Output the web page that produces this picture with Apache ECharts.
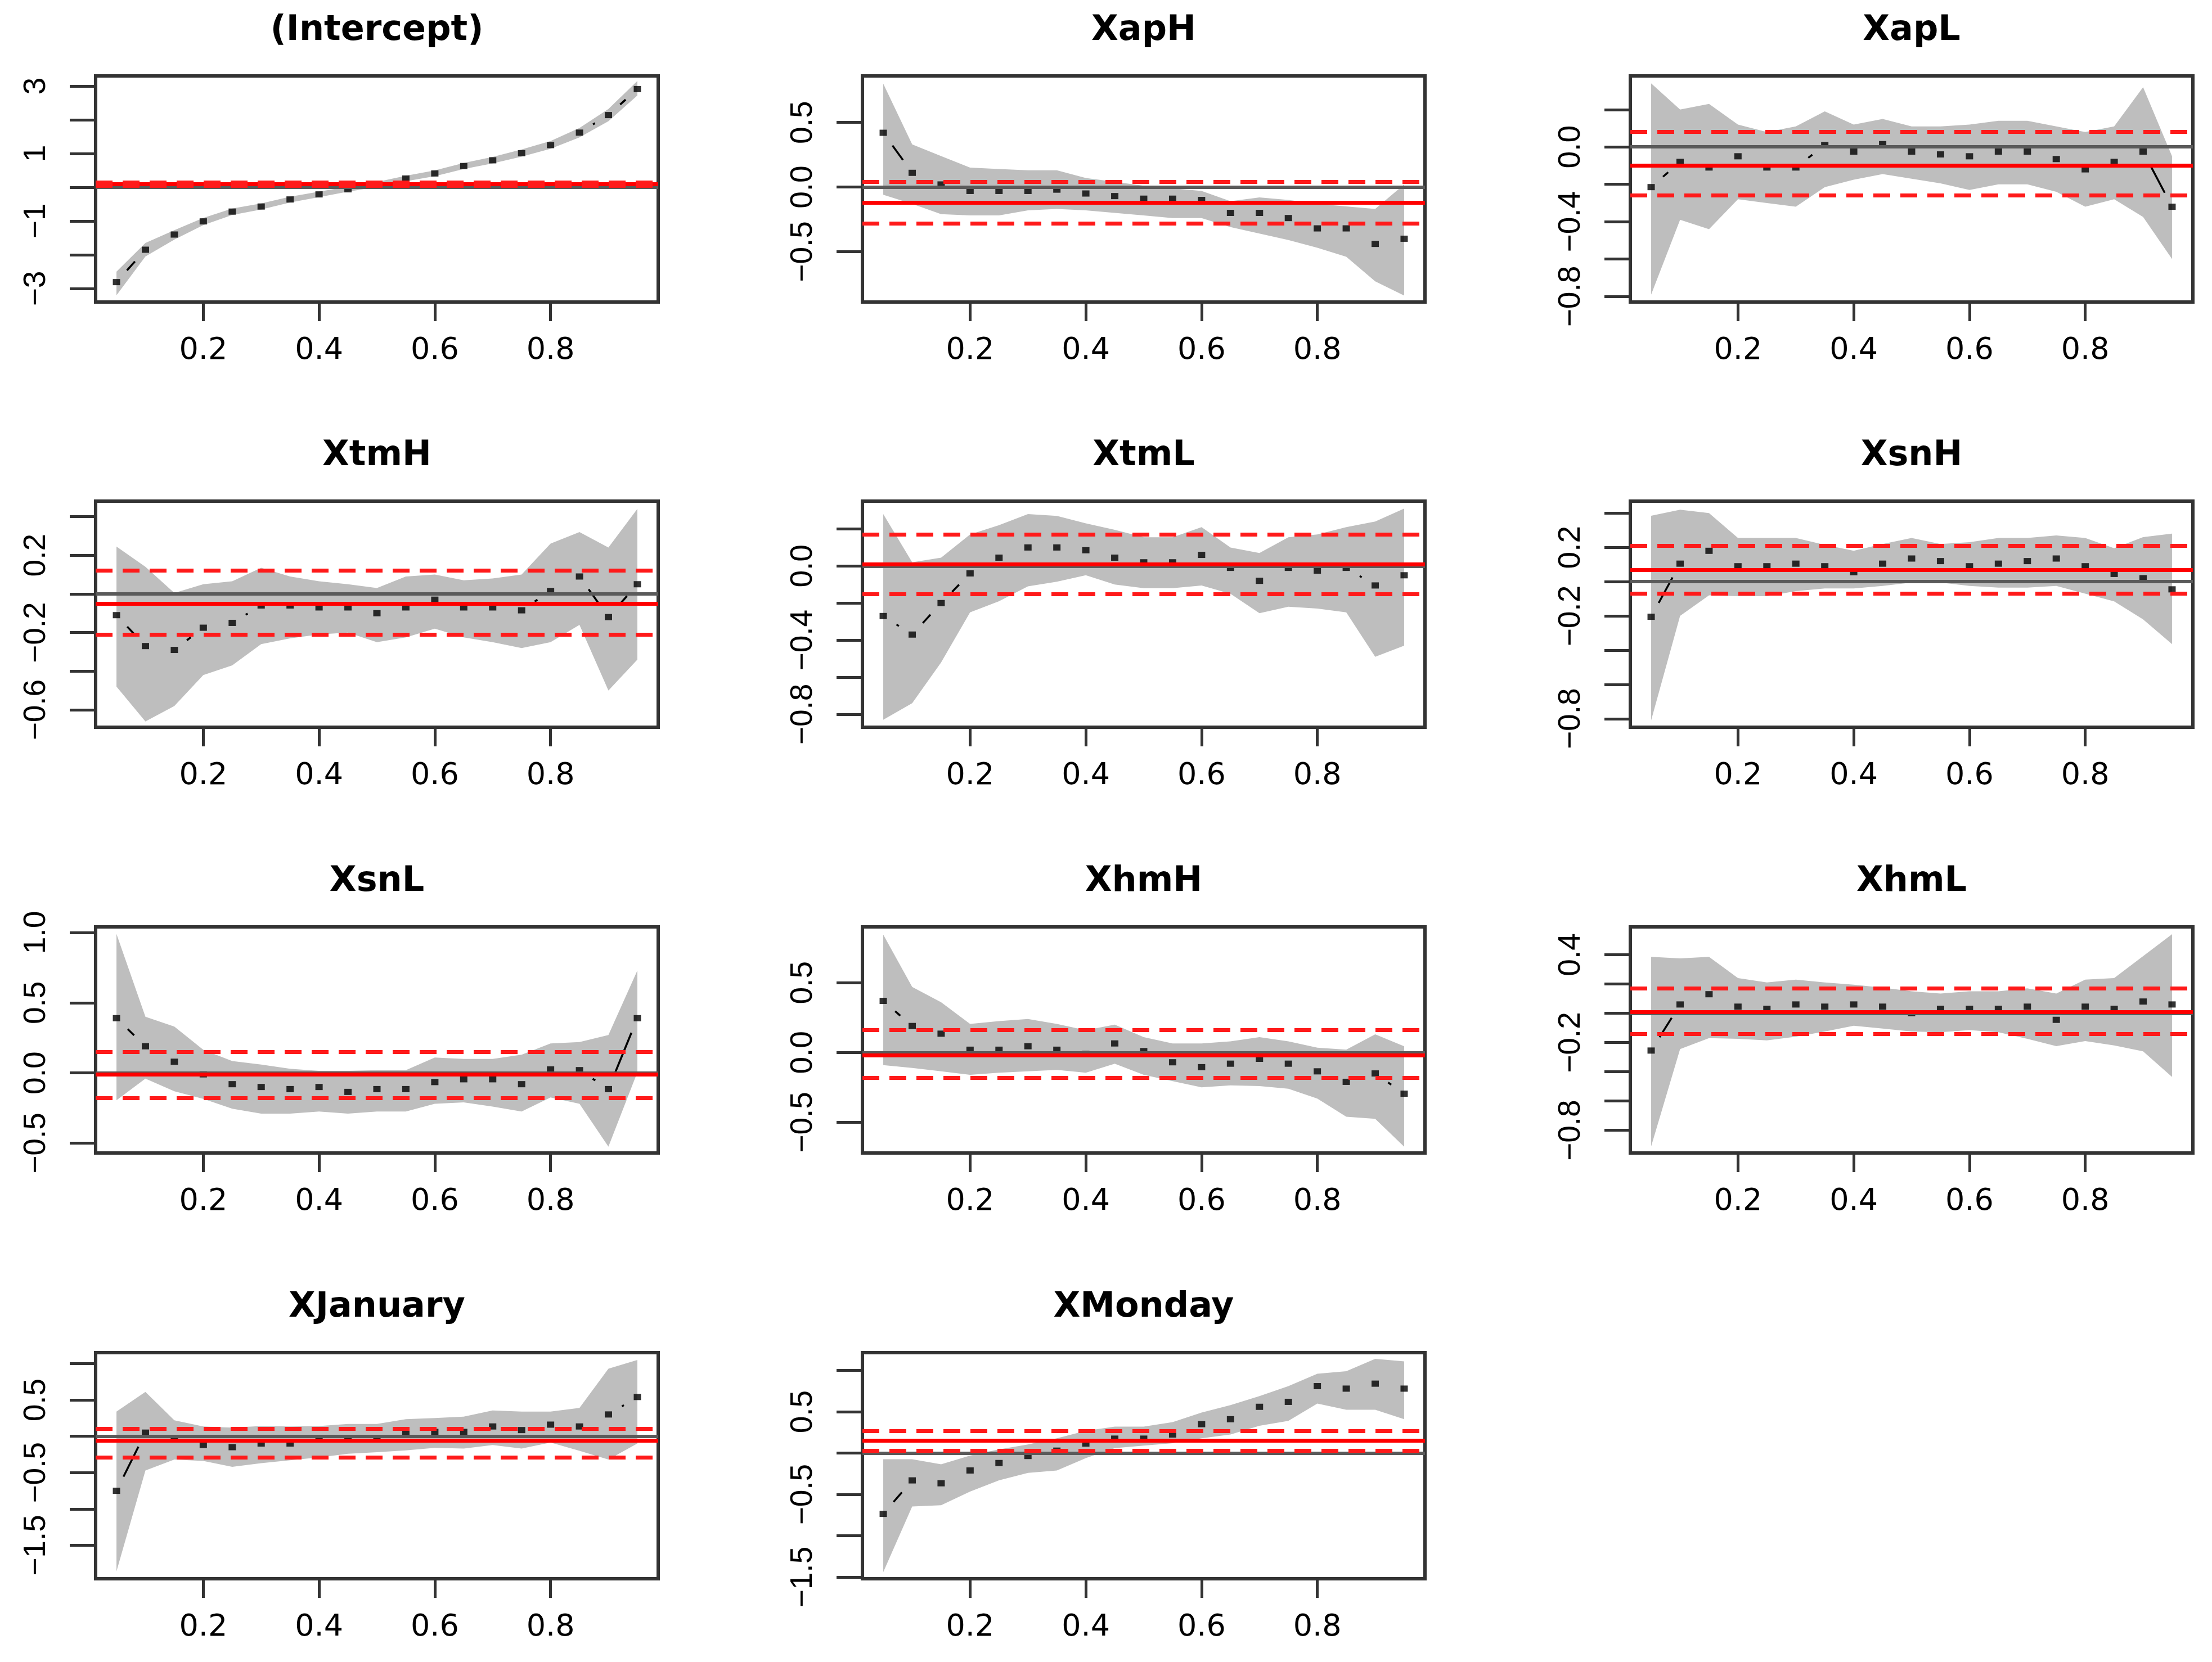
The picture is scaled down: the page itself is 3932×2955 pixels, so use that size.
<!DOCTYPE html>
<html><head><meta charset="utf-8">
<script src="https://cdn.jsdelivr.net/npm/echarts@6/dist/echarts.min.js"></script>
<style>html,body{margin:0;padding:0;background:#fff}#c{width:3932px;height:2955px}</style>
</head><body><div id="c"></div>
<script>
const taus = [0.05,0.10,0.15,0.20,0.25,0.30,0.35,0.40,0.45,0.50,0.55,0.60,0.65,0.70,0.75,0.80,0.85,0.90,0.95];
const panelNames = ['(Intercept)','XapH','XapL','XtmH','XtmL','XsnH','XsnL','XhmH','XhmL','XJanuary','XMonday'];
const xTickValues = [0.2,0.4,0.6,0.8];

const interceptEst = [-2.81,-1.85,-1.40,-1.01,-0.72,-0.57,-0.36,-0.21,-0.06,0.08,0.26,0.41,0.63,0.80,1.01,1.25,1.62,2.14,2.91];
const interceptLo  = [-3.20,-2.05,-1.55,-1.12,-0.82,-0.66,-0.45,-0.29,-0.13,0.01,0.18,0.33,0.54,0.71,0.91,1.14,1.48,1.96,2.72];
const interceptHi  = [-2.50,-1.65,-1.27,-0.91,-0.63,-0.48,-0.28,-0.13,0.02,0.16,0.34,0.50,0.72,0.90,1.12,1.37,1.76,2.32,3.15];
const interceptOls = [0.10,0.05,0.15];

const xapHEst = [0.42,0.11,0.02,-0.03,-0.03,-0.03,-0.02,-0.05,-0.07,-0.09,-0.09,-0.10,-0.20,-0.20,-0.24,-0.32,-0.32,-0.44,-0.40];
const xapHLo  = [-0.06,-0.13,-0.21,-0.22,-0.22,-0.18,-0.17,-0.18,-0.20,-0.22,-0.24,-0.24,-0.31,-0.36,-0.41,-0.47,-0.54,-0.73,-0.84];
const xapHHi  = [0.80,0.33,0.24,0.15,0.14,0.13,0.13,0.07,0.04,0.01,-0.01,-0.03,-0.11,-0.08,-0.10,-0.13,-0.15,-0.17,0.02];
const xapHOls = [-0.12,-0.28,0.04];

const xapLEst = [-0.215,-0.08,-0.11,-0.05,-0.11,-0.11,0.01,-0.025,0.015,-0.025,-0.04,-0.05,-0.025,-0.025,-0.065,-0.12,-0.08,-0.025,-0.32];
const xapLLo  = [-0.79,-0.39,-0.44,-0.28,-0.30,-0.32,-0.215,-0.175,-0.145,-0.17,-0.195,-0.23,-0.20,-0.20,-0.24,-0.32,-0.28,-0.375,-0.60];
const xapLHi  = [0.34,0.20,0.23,0.12,0.08,0.11,0.19,0.12,0.15,0.11,0.11,0.12,0.14,0.14,0.11,0.08,0.11,0.32,-0.05];
const xapLOls = [-0.10,-0.26,0.08];

const xtmHEst = [-0.11,-0.27,-0.29,-0.175,-0.15,-0.06,-0.06,-0.07,-0.07,-0.10,-0.07,-0.03,-0.07,-0.07,-0.085,0.015,0.09,-0.12,0.05];
const xtmHLo  = [-0.48,-0.66,-0.58,-0.42,-0.37,-0.26,-0.23,-0.21,-0.20,-0.25,-0.225,-0.18,-0.225,-0.25,-0.28,-0.25,-0.16,-0.50,-0.34];
const xtmHHi  = [0.245,0.14,0.005,0.05,0.065,0.135,0.09,0.065,0.05,0.03,0.09,0.10,0.07,0.08,0.10,0.26,0.32,0.24,0.44];
const xtmHOls = [-0.05,-0.21,0.12];

const xtmLEst = [-0.27,-0.37,-0.20,-0.04,0.045,0.10,0.10,0.085,0.045,0.02,0.02,0.06,-0.01,-0.08,-0.01,-0.025,-0.01,-0.105,-0.05];
const xtmLLo  = [-0.83,-0.74,-0.52,-0.25,-0.19,-0.11,-0.085,-0.05,-0.10,-0.12,-0.12,-0.105,-0.15,-0.255,-0.22,-0.23,-0.25,-0.49,-0.43];
const xtmLHi  = [0.28,0.02,0.045,0.17,0.22,0.28,0.27,0.23,0.195,0.155,0.155,0.21,0.10,0.07,0.155,0.17,0.21,0.24,0.31];
const xtmLOls = [0.01,-0.15,0.175];

const xsnHEst = [-0.205,0.105,0.18,0.09,0.09,0.105,0.09,0.055,0.105,0.135,0.12,0.09,0.105,0.12,0.135,0.09,0.045,0.02,-0.045];
const xsnHLo  = [-0.81,-0.20,-0.08,-0.085,-0.085,-0.055,-0.04,-0.04,-0.025,-0.005,-0.005,-0.025,-0.035,-0.035,-0.025,-0.07,-0.115,-0.22,-0.365];
const xsnHHi  = [0.385,0.42,0.40,0.255,0.255,0.255,0.215,0.18,0.22,0.255,0.22,0.23,0.255,0.255,0.27,0.255,0.195,0.26,0.28];
const xsnHOls = [0.065,-0.065,0.215];

const xsnLEst = [0.39,0.19,0.08,-0.01,-0.08,-0.10,-0.115,-0.10,-0.135,-0.115,-0.115,-0.065,-0.045,-0.045,-0.08,0.025,0.02,-0.115,0.39];
const xsnLLo  = [-0.195,-0.04,-0.13,-0.185,-0.255,-0.29,-0.29,-0.275,-0.29,-0.275,-0.275,-0.22,-0.21,-0.24,-0.275,-0.175,-0.22,-0.525,0.005];
const xsnLHi  = [0.99,0.40,0.33,0.165,0.085,0.06,0.03,0.015,0.015,0.02,0.02,0.11,0.10,0.10,0.13,0.21,0.22,0.27,0.73];
const xsnLOls = [-0.01,-0.18,0.15];

const xhmHEst = [0.37,0.19,0.135,0.02,0.02,0.045,0.02,-0.01,0.065,0.01,-0.07,-0.105,-0.08,-0.045,-0.08,-0.135,-0.21,-0.15,-0.295];
const xhmHLo  = [-0.09,-0.11,-0.135,-0.16,-0.145,-0.135,-0.125,-0.145,-0.08,-0.16,-0.205,-0.25,-0.235,-0.24,-0.26,-0.33,-0.46,-0.475,-0.675];
const xhmHHi  = [0.845,0.47,0.36,0.205,0.225,0.24,0.205,0.16,0.20,0.11,0.065,0.065,0.08,0.11,0.08,0.035,0.02,0.13,0.045];
const xhmHOls = [-0.02,-0.185,0.16];

const xhmLEst = [-0.255,0.06,0.13,0.045,0.03,0.06,0.045,0.06,0.045,0.0,0.03,0.03,0.03,0.045,-0.045,0.045,0.03,0.08,0.06];
const xhmLLo  = [-0.91,-0.245,-0.17,-0.175,-0.185,-0.16,-0.125,-0.085,-0.105,-0.125,-0.13,-0.115,-0.13,-0.175,-0.225,-0.19,-0.22,-0.26,-0.435];
const xhmLHi  = [0.385,0.375,0.385,0.24,0.21,0.23,0.21,0.195,0.175,0.15,0.135,0.15,0.15,0.17,0.135,0.23,0.24,0.39,0.54];
const xhmLOls = [0.015,-0.14,0.17];

const januaryEst = [-0.75,0.05,-0.035,-0.12,-0.15,-0.10,-0.10,-0.035,-0.035,-0.035,0.035,0.06,0.06,0.135,0.085,0.16,0.135,0.30,0.54];
const januaryLo  = [-1.86,-0.47,-0.32,-0.34,-0.42,-0.37,-0.33,-0.29,-0.24,-0.22,-0.195,-0.16,-0.17,-0.12,-0.17,-0.085,-0.20,-0.32,-0.10];
const januaryHi  = [0.34,0.61,0.22,0.135,0.12,0.14,0.135,0.14,0.17,0.17,0.235,0.25,0.27,0.355,0.34,0.34,0.39,0.93,1.05];
const januaryOls = [-0.06,-0.29,0.10];

const mondayEst = [-0.735,-0.33,-0.365,-0.21,-0.12,-0.035,0.03,0.115,0.175,0.175,0.225,0.35,0.41,0.56,0.62,0.81,0.78,0.84,0.78];
const mondayLo  = [-1.44,-0.645,-0.63,-0.465,-0.33,-0.24,-0.21,-0.06,0.06,0.09,0.12,0.18,0.225,0.33,0.39,0.60,0.525,0.525,0.41];
const mondayHi  = [-0.075,-0.075,-0.135,-0.03,0.045,0.105,0.18,0.27,0.32,0.32,0.375,0.49,0.58,0.69,0.81,0.96,0.99,1.14,1.11];
const mondayOls = [0.155,0.025,0.27];

const yLimits = [[-3.40,3.30],[-0.89,0.86],[-0.83,0.38],[-0.69,0.48],[-0.87,0.35],[-0.85,0.47],[-0.57,1.04],[-0.72,0.90],[-0.955,0.59],[-1.96,1.15],[-1.52,1.215]];
const yTicks = [
  [-3,-2,-1,0,1,2,3],
  [-0.5,0,0.5],
  [-0.8,-0.6,-0.4,-0.2,0,0.2],
  [-0.6,-0.4,-0.2,0,0.2,0.4],
  [-0.8,-0.6,-0.4,-0.2,0,0.2],
  [-0.8,-0.6,-0.4,-0.2,0,0.2,0.4],
  [-0.5,0,0.5,1],
  [-0.5,0,0.5],
  [-0.8,-0.6,-0.4,-0.2,0,0.2,0.4],
  [-1.5,-1,-0.5,0,0.5,1],
  [-1.5,-1,-0.5,0,0.5,1]
];
const yLabels = [
  [-3,-1,1,3],
  [-0.5,0,0.5],
  [-0.8,-0.4,0],
  [-0.6,-0.2,0.2],
  [-0.8,-0.4,0],
  [-0.8,-0.2,0.2],
  [-0.5,0,0.5,1],
  [-0.5,0,0.5],
  [-0.8,-0.2,0.4],
  [-1.5,-0.5,0.5],
  [-1.5,-0.5,0.5]
];
const yDecimals = [0,1,1,1,1,1,1,1,1,1,1];

const estimates = [interceptEst,xapHEst,xapLEst,xtmHEst,xtmLEst,xsnHEst,xsnLEst,xhmHEst,xhmLEst,januaryEst,mondayEst];
const lowers = [interceptLo,xapHLo,xapLLo,xtmHLo,xtmLLo,xsnHLo,xsnLLo,xhmHLo,xhmLLo,januaryLo,mondayLo];
const uppers = [interceptHi,xapHHi,xapLHi,xtmHHi,xtmLHi,xsnHHi,xsnLHi,xhmHHi,xhmLHi,januaryHi,mondayHi];
const olsLines = [interceptOls,xapHOls,xapLOls,xtmHOls,xtmLOls,xsnHOls,xsnLOls,xhmHOls,xhmLOls,januaryOls,mondayOls];

// layout
const colLeft = [170,1533,2898];
const rowTop = [135,891,1648,2405];
const W = 1000, H = 402;
const FONT = '"DejaVu Sans", sans-serif';
const YFONT = '"Liberation Sans", Arial, sans-serif';

function fmt(v, d) {
  let s = d === 0 ? String(Math.round(v)) : Number(v).toFixed(d);
  if (s.startsWith('-')) s = '\u2212' + s.slice(1);
  if (s === '\u22120.0') s = '0.0';
  return s;
}

const grids = [], xAxes = [], yAxes = [], series = [], graphics = [];
panelNames.forEach((name, i) => {
  const r = Math.floor(i / 3), c = i % 3;
  const est = estimates[i], lo = lowers[i], hi = uppers[i], ols = olsLines[i];
  grids.push({left: colLeft[c], top: rowTop[r], width: W, height: H, show: true,
    borderColor: '#333', borderWidth: 6, backgroundColor: 'rgba(0,0,0,0)', containLabel: false, outerBoundsMode: 'none'});
  xAxes.push({gridIndex: i, type: 'value', min: 0.014, max: 0.986, position: 'bottom',
    axisLine: {show: false, onZero: false}, splitLine: {show: false},
    axisTick: {show: true, length: 34, customValues: xTickValues, lineStyle: {color: '#333', width: 5}},
    axisLabel: {customValues: xTickValues, formatter: v => Number(v).toFixed(1), fontSize: 54, fontFamily: FONT, color: '#000', margin: 60}});
  const d = yDecimals[i];
  yAxes.push({gridIndex: i, type: 'value', min: yLimits[i][0], max: yLimits[i][1], position: 'left',
    axisLine: {show: false, onZero: false}, splitLine: {show: false},
    axisTick: {show: true, length: 46, customValues: yTicks[i], lineStyle: {color: '#333', width: 5}},
    axisLabel: {customValues: yLabels[i], rotate: 90, showMinLabel: true, showMaxLabel: true, hideOverlap: false,
      formatter: v => fmt(v, d), fontSize: 55, fontFamily: YFONT, color: '#000', margin: 78}});
  // confidence band
  series.push({type: 'custom', xAxisIndex: i, yAxisIndex: i, silent: true, z: 1, animation: false,
    data: taus.map((t, k) => [t, lo[k], hi[k]]),
    renderItem: (params, api) => {
      if (params.dataIndex !== 0) return null;
      const pts = [];
      for (let k = 0; k < taus.length; k++) pts.push(api.coord([taus[k], hi[k]]));
      for (let k = taus.length - 1; k >= 0; k--) pts.push(api.coord([taus[k], lo[k]]));
      return {type: 'polygon', shape: {points: pts}, style: {fill: '#bebebe'}};
    }});
  // zero line
  series.push({type: 'line', xAxisIndex: i, yAxisIndex: i, silent: true, z: 2, animation: false,
    data: taus.map((t, k) => [t, est[k]]), symbol: 'none', lineStyle: {opacity: 0},
    markLine: {silent: true, symbol: 'none', animation: false, label: {show: false},
      data: [{yAxis: 0, lineStyle: {color: '#5a5a5a', width: 6, type: 'solid'}}]}});
  // type "b" segments
  series.push({type: 'custom', xAxisIndex: i, yAxisIndex: i, silent: true, z: 3, animation: false,
    data: taus.slice(0, -1).map((t, k) => [t, est[k], taus[k + 1], est[k + 1]]),
    encode: {x: [0, 2], y: [1, 3]},
    renderItem: (params, api) => {
      const a = api.coord([api.value(0), api.value(1)]);
      const b = api.coord([api.value(2), api.value(3)]);
      const dx = b[0] - a[0], dy = b[1] - a[1], L = Math.hypot(dx, dy), g = 28;
      if (L <= 2 * g + 3) return null;
      const ux = dx / L, uy = dy / L;
      return {type: 'line', shape: {x1: a[0] + ux * g, y1: a[1] + uy * g, x2: b[0] - ux * g, y2: b[1] - uy * g},
        style: {stroke: '#000', lineWidth: 3.5}};
    }});
  // estimates
  series.push({type: 'scatter', xAxisIndex: i, yAxisIndex: i, silent: true, z: 4, animation: false,
    data: taus.map((t, k) => [t, est[k]]), symbol: 'rect', symbolSize: [13, 11], itemStyle: {color: '#000'}});
  // OLS lines
  series.push({type: 'line', xAxisIndex: i, yAxisIndex: i, silent: true, z: 5, animation: false,
    data: taus.map((t, k) => [t, est[k]]), symbol: 'none', lineStyle: {opacity: 0},
    markLine: {silent: true, symbol: 'none', animation: false, label: {show: false},
      data: [
        {yAxis: ols[0], lineStyle: {color: '#ff0000', width: 7, type: 'solid'}},
        {yAxis: ols[1], lineStyle: {color: '#ff1a1a', width: 7, type: [30, 18]}},
        {yAxis: ols[2], lineStyle: {color: '#ff1a1a', width: 7, type: [30, 18]}}
      ]}});
  graphics.push({type: 'text', x: colLeft[c] + W / 2, y: rowTop[r] - 80, silent: true,
    style: {text: name, fill: '#000', font: 'bold 62px ' + FONT, textAlign: 'center', textVerticalAlign: 'middle'}});
});

const chart = echarts.init(document.getElementById('c'), null, {renderer: 'canvas'});
chart.setOption({backgroundColor: '#ffffff', animation: false, grid: grids, xAxis: xAxes, yAxis: yAxes, series: series, graphic: graphics});
</script></body></html>
